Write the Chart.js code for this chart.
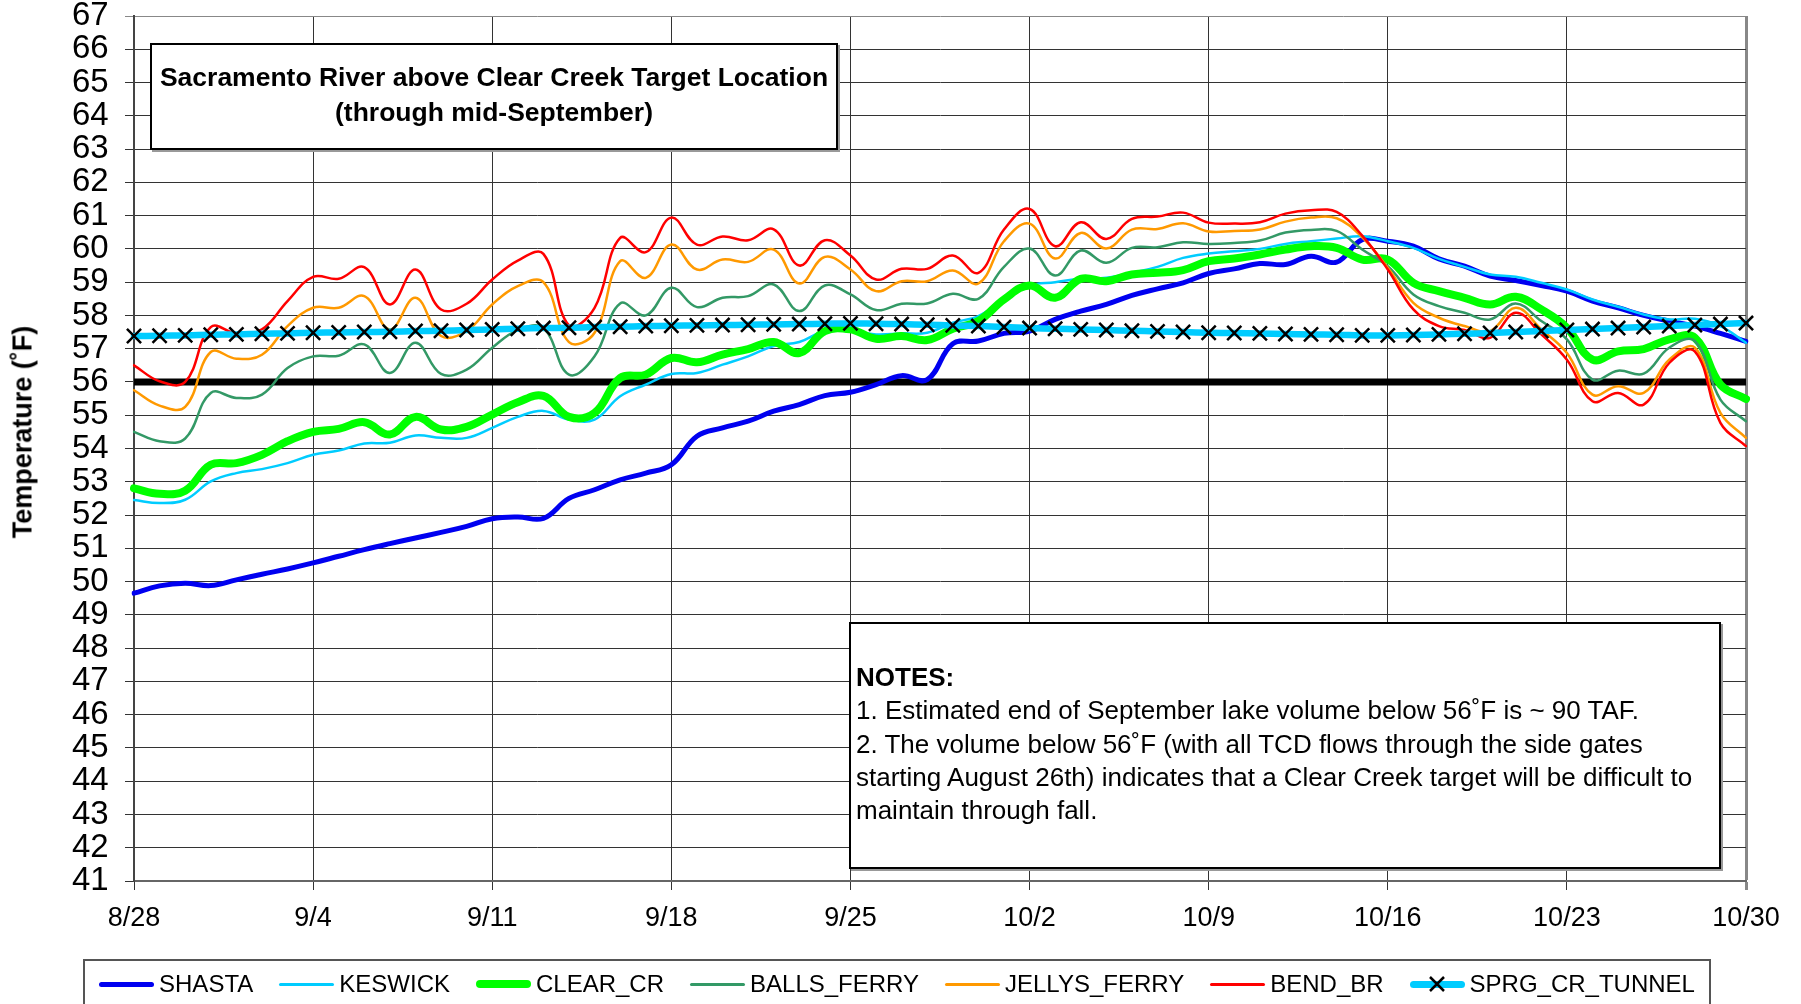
<!DOCTYPE html>
<html>
<head>
<meta charset="utf-8">
<script src="https://cdn.jsdelivr.net/npm/chart.js@4.4.1/dist/chart.umd.min.js"></script>
<style>
  body { margin: 0; background: #fff; font-family: "Liberation Sans", Arial, sans-serif; }
  #wrap { position: relative; width: 1801px; height: 1004px; overflow: hidden; }
  #chart { position: absolute; left: 0; top: 0; }
  .box { position: absolute; background: #fff; border: 2px solid #000; box-shadow: 2px 2px 0 #999; box-sizing: border-box; }
  #titleBox { left: 150px; top: 43px; width: 688px; height: 107px; text-align: center; font-weight: bold; font-size: 26.5px; line-height: 35px; padding-top: 15px; }
  #notesBox { left: 849px; top: 622px; width: 872px; height: 247px; font-size: 26px; line-height: 33.3px; padding: 37px 0 0 5px; }
  #yTitle { position: absolute; left: 23px; top: 432px; transform: translate(-50%, -50%) rotate(-90deg); white-space: nowrap; font-weight: bold; font-size: 27px; }
  #legend { position: absolute; left: 83px; top: 959px; width: 1628px; height: 80px; border: 2px solid #555; box-sizing: border-box; }
  #legendRow { display: flex; align-items: center; justify-content: center; height: 46px; gap: 26px; font-size: 24px; }
  .item { display: flex; align-items: center; }
  .swatch { position: relative; width: 55px; margin-right: 5px; }
</style>
</head>
<body>
<div id="wrap">
  <canvas id="chart" width="1801" height="1004"></canvas>
  <div id="yTitle">Temperature (˚F)</div>
  <div class="box" id="titleBox">Sacramento River above Clear Creek Target Location<br>(through mid-September)</div>
  <div class="box" id="notesBox"><b>NOTES:</b><br>1. Estimated end of September lake volume below 56˚F is ~ 90 TAF.<br>2. The volume below 56˚F (with all TCD flows through the side gates<br>starting August 26th) indicates that a Clear Creek target will be difficult to<br>maintain through fall.</div>
  <div id="legend"><div id="legendRow"></div></div>
</div>
<script>
// one label per day, 8/28 .. 10/30
const days = [];
for (let d = new Date(2007, 7, 28); d <= new Date(2007, 9, 30); d.setDate(d.getDate() + 1)) {
  days.push((d.getMonth() + 1) + "/" + d.getDate());
}
const tickLabels = ["8/28", "9/4", "9/11", "9/18", "9/25", "10/2", "10/9", "10/16", "10/23", "10/30"];

const shasta = [49.65, 49.87, 49.95, 49.88, 50.05, 50.22, 50.38, 50.56, 50.76, 50.96, 51.14, 51.31, 51.48, 51.66, 51.89, 51.94,
  51.9, 52.5, 52.76, 53.06, 53.26, 53.51, 54.37, 54.62, 54.82, 55.12, 55.32, 55.59, 55.69, 55.92, 56.19, 56.07,
  57.15, 57.23, 57.46, 57.53, 57.88, 58.13, 58.33, 58.6, 58.8, 58.98, 59.26, 59.4, 59.56, 59.53, 59.78, 59.6,
  60.28, 60.23, 60.08, 59.7, 59.48, 59.18, 59.05, 58.9, 58.73, 58.43, 58.23, 58.0, 57.83, 57.68, 57.46, 57.22];

const keswick = [52.45, 52.36, 52.46, 53.01, 53.26, 53.38, 53.56, 53.81, 53.94, 54.15, 54.17, 54.39, 54.32, 54.32, 54.62, 54.95,
  55.13, 54.87, 54.87, 55.57, 55.92, 56.24, 56.27, 56.52, 56.77, 57.08, 57.2, 57.53, 57.53, 57.43, 57.46, 57.48,
  57.78, 57.98, 58.48, 58.9, 59.0, 59.1, 59.13, 59.28, 59.46, 59.73, 59.86, 59.93, 60.0, 60.15, 60.23, 60.31,
  60.38, 60.23, 60.03, 59.7, 59.46, 59.23, 59.16, 58.98, 58.78, 58.48, 58.26, 58.03, 57.88, 57.9, 57.68, 57.18];

const clearCr = [52.8, 52.64, 52.73, 53.51, 53.56, 53.81, 54.22, 54.5, 54.59, 54.79, 54.42, 54.95, 54.57, 54.65, 55.02, 55.39,
  55.58, 54.95, 55.07, 56.12, 56.22, 56.72, 56.59, 56.82, 56.99, 57.2, 56.87, 57.53, 57.58, 57.3, 57.38, 57.26,
  57.6, 57.83, 58.48, 58.9, 58.53, 59.1, 59.03, 59.23, 59.28, 59.36, 59.63, 59.71, 59.83, 59.98, 60.08, 60.03,
  59.68, 59.68, 58.98, 58.73, 58.53, 58.33, 58.56, 58.18, 57.63, 56.67, 56.92, 56.99, 57.28, 57.33, 55.92, 55.49];

const ballsFerry = [54.5, 54.22, 54.3, 55.67, 55.52, 55.62, 56.42, 56.77, 56.79, 57.13, 56.27, 57.18, 56.24, 56.37, 57.03, 57.56,
  57.62, 56.22, 56.77, 58.36, 58.0, 58.83, 58.25, 58.53, 58.58, 58.93, 58.13, 58.9, 58.63, 58.16, 58.35, 58.36,
  58.65, 58.5, 59.46, 60.01, 59.2, 59.95, 59.58, 60.03, 60.05, 60.2, 60.15, 60.18, 60.25, 60.49, 60.57, 60.54,
  59.98, 59.48, 58.63, 58.28, 58.08, 57.88, 58.36, 57.83, 57.28, 56.07, 56.34, 56.25, 57.03, 57.23, 55.47, 54.82];

const jellysFerry = [55.75, 55.29, 55.25, 56.9, 56.7, 56.82, 57.68, 58.23, 58.23, 58.58, 57.58, 58.53, 57.38, 57.53, 58.33, 58.88,
  59.0, 57.2, 57.48, 59.63, 59.13, 60.13, 59.38, 59.68, 59.61, 59.98, 58.96, 59.76, 59.38, 58.73, 59.03, 59.03,
  59.35, 58.96, 60.23, 60.76, 59.71, 60.48, 60.01, 60.58, 60.6, 60.77, 60.52, 60.54, 60.58, 60.82, 60.94, 60.92,
  60.35, 59.43, 58.38, 57.93, 57.68, 57.53, 58.23, 57.58, 56.87, 55.62, 55.87, 55.67, 56.67, 57.03, 55.07, 54.32];

const bendBr = [56.5, 56.02, 56.0, 57.65, 57.46, 57.58, 58.43, 59.16, 59.1, 59.45, 58.33, 59.38, 58.18, 58.35, 59.08, 59.65,
  59.85, 57.7, 58.23, 60.33, 59.9, 60.94, 60.13, 60.37, 60.26, 60.59, 59.5, 60.26, 59.8, 59.08, 59.4, 59.4,
  59.8, 59.28, 60.58, 61.2, 60.08, 60.8, 60.3, 60.9, 60.97, 61.09, 60.79, 60.76, 60.8, 61.06, 61.16, 61.11,
  60.4, 59.38, 58.18, 57.68, 57.56, 57.33, 58.08, 57.43, 56.67, 55.42, 55.67, 55.32, 56.57, 56.92, 54.77, 54.07];

const sprgCrTunnel = [57.38, 57.39, 57.4, 57.42, 57.43, 57.45, 57.46, 57.48, 57.49, 57.5, 57.51, 57.53, 57.54, 57.56, 57.58, 57.6,
  57.62, 57.63, 57.65, 57.66, 57.68, 57.69, 57.7, 57.71, 57.72, 57.73, 57.74, 57.75, 57.76, 57.75, 57.74, 57.72,
  57.7, 57.68, 57.65, 57.62, 57.6, 57.58, 57.56, 57.54, 57.52, 57.5, 57.48, 57.47, 57.46, 57.44, 57.43, 57.42,
  57.4, 57.4, 57.41, 57.43, 57.45, 57.47, 57.5, 57.53, 57.56, 57.59, 57.62, 57.65, 57.68, 57.71, 57.74, 57.77];

const targetTemp = 56;

function series(label, data, color, width, order) {
  return {
    label: label, data: data, borderColor: color, backgroundColor: color,
    borderWidth: width, pointRadius: 0, tension: 0.4, order: order,
    borderCapStyle: "round", borderJoinStyle: "round"
  };
}

const datasets = [
  series("SHASTA", shasta, "#0000f0", 5, 6),
  series("KESWICK", keswick, "#00ccff", 2.5, 5),
  series("CLEAR_CR", clearCr, "#00ff00", 8, 4),
  series("BALLS_FERRY", ballsFerry, "#339966", 2.5, 3),
  series("JELLYS_FERRY", jellysFerry, "#ff9900", 2.5, 2),
  series("BEND_BR", bendBr, "#ff0000", 2.5, 1),
  Object.assign(series("SPRG_CR_TUNNEL", sprgCrTunnel, "#00ccff", 6.5, 0), {
    pointStyle: "crossRot", pointRadius: 10, pointBorderColor: "#000", pointBorderWidth: 2.5
  }),
  {
    label: "target", data: days.map(() => targetTemp), borderColor: "#000", borderWidth: 7,
    pointRadius: 0, tension: 0, order: 7, borderCapStyle: "butt"
  }
];

const font = "'Liberation Sans', Arial, sans-serif";
const lastDay = tickLabels[tickLabels.length - 1];

new Chart(document.getElementById("chart"), {
  type: "line",
  data: { labels: days, datasets: datasets },
  options: {
    responsive: false,
    animation: false,
    devicePixelRatio: 1,
    layout: { padding: { left: 72, right: 55, top: 16, bottom: 0 } },
    plugins: { legend: { display: false }, tooltip: { enabled: false } },
    scales: {
      x: {
        grid: {
          color: c => c.tick && c.tick.label === lastDay ? "#888" : "#333",
          lineWidth: c => c.tick && c.tick.label === lastDay ? 3 : 1,
          tickLength: 9
        },
        border: { color: "#666", width: 2 },
        ticks: {
          autoSkip: false, maxRotation: 0, padding: 12, color: "#000",
          font: { family: font, size: 27, lineHeight: 1.2 },
          callback: (v, i) => tickLabels.includes(days[i]) ? days[i] : null
        },
        afterFit: s => { s.height = 123; }
      },
      y: {
        min: 41, max: 67,
        grid: { color: c => c.tick.value === 67 ? "#888" : "#333", lineWidth: 1, tickLength: 9 },
        border: { color: "#444", width: 2 },
        ticks: {
          stepSize: 1, autoSkip: false, padding: 3, crossAlign: "far", color: "#000",
          font: { family: font, size: 33, lineHeight: 0.75 }
        },
        afterFit: s => { s.width = 62; }
      }
    }
  }
});

// legend built from the datasets
const legendRow = document.getElementById("legendRow");
datasets.slice(0, 7).forEach(ds => {
  const item = document.createElement("div");
  item.className = "item";
  const sw = document.createElement("div");
  sw.className = "swatch";
  const h = Math.max(3, Math.round(ds.borderWidth));
  sw.style.height = h + "px";
  sw.style.background = ds.borderColor;
  sw.style.borderRadius = h / 2 + "px";
  if (ds.pointStyle) {
    sw.innerHTML = '<svg width="20" height="20" style="position:absolute;left:17px;top:' + (h / 2 - 10) +
      'px"><path d="M3 3L17 17M17 3L3 17" stroke="#000" stroke-width="2.5"/></svg>';
  }
  const txt = document.createElement("span");
  txt.textContent = ds.label;
  item.appendChild(sw);
  item.appendChild(txt);
  legendRow.appendChild(item);
});
</script>
</body>
</html>
